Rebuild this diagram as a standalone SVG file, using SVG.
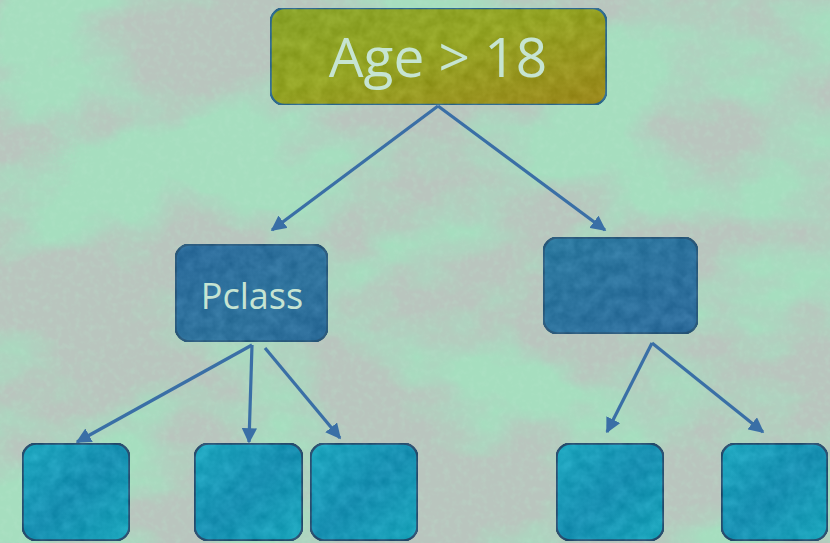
<svg xmlns="http://www.w3.org/2000/svg" width="830" height="543" viewBox="0 0 830 543">
  <defs>
    <style>
      .node { stroke-width: 2.5; }
      .lbl { font-family: "Open Sans", "Liberation Sans", sans-serif; fill: #c6e4d2; text-anchor: middle; }
      .edge { stroke: #3a6fa6; stroke-width: 3.2; fill: none; marker-end: url(#arrow); }
    </style>
    <marker id="arrow" viewBox="0 0 10 10" refX="9" refY="5" markerWidth="4.8" markerHeight="4.8" orient="auto" markerUnits="strokeWidth">
      <path d="M0,0 L10,5 L0,10 Z" fill="#3a6fa6"/>
    </marker>

    <!-- foliage-like backdrop: pale green blotches over grey -->
    <filter id="foliage" x="0" y="0" width="100%" height="100%" color-interpolation-filters="sRGB">
      <feTurbulence type="fractalNoise" baseFrequency="0.006 0.009" numOctaves="5" seed="11" result="n"/>
      <feColorMatrix in="n" type="matrix" values="0 0 0 0 0.65  0 0 0 0 0.87  0 0 0 0 0.75  4.2 0 0 0 -1.75"/>
    </filter>
    <filter id="grain" x="0" y="0" width="100%" height="100%" color-interpolation-filters="sRGB">
      <feTurbulence type="fractalNoise" baseFrequency="0.16" numOctaves="2" seed="3" result="n"/>
      <feColorMatrix in="n" type="matrix" values="0 0 0 0 0.72  0 0 0 0 0.90  0 0 0 0 0.80  2.2 0 0 0 -1.0"/>
    </filter>

    <!-- mottled texture for box fills -->
    <filter id="mottle" x="0" y="0" width="100%" height="100%" color-interpolation-filters="sRGB">
      <feTurbulence type="fractalNoise" baseFrequency="0.08" numOctaves="3" seed="5" result="n"/>
      <feColorMatrix in="n" type="matrix" values="1 0 0 0 0  1 0 0 0 0  1 0 0 0 0  0 0 0 0 1" result="g"/>
      <feComposite in="SourceGraphic" in2="g" operator="arithmetic" k1="0" k2="1" k3="0.13" k4="-0.065" result="m"/>
      <feComposite in="m" in2="SourceAlpha" operator="in"/>
    </filter>

    <linearGradient id="rootFill" x1="0" y1="0" x2="1" y2="1">
      <stop offset="0" stop-color="#8aa42a"/>
      <stop offset="0.45" stop-color="#94a424"/>
      <stop offset="1" stop-color="#9c881c"/>
    </linearGradient>
    <linearGradient id="midFill" x1="0" y1="0" x2="1" y2="1">
      <stop offset="0" stop-color="#2c6c9c"/>
      <stop offset="0.6" stop-color="#30749e"/>
      <stop offset="1" stop-color="#2a6a98"/>
    </linearGradient>
    <linearGradient id="midFill2" x1="0" y1="0" x2="1" y2="1">
      <stop offset="0" stop-color="#2c7aa0"/>
      <stop offset="1" stop-color="#2e6c9c"/>
    </linearGradient>
    <linearGradient id="leafFill" x1="0" y1="0" x2="1" y2="1">
      <stop offset="0" stop-color="#1ea8c0"/>
      <stop offset="0.5" stop-color="#1890b2"/>
      <stop offset="1" stop-color="#1aa6bc"/>
    </linearGradient>
  </defs>

  <!-- backdrop -->
  <rect width="830" height="543" fill="#b9c5be"/>
  <rect width="830" height="543" filter="url(#foliage)"/>
  <rect width="830" height="543" filter="url(#grain)" opacity="0.3"/>

  <!-- connectors -->
  <g id="connectors">
    <line class="edge" x1="438" y1="106" x2="272" y2="230"/>
    <line class="edge" x1="438" y1="106" x2="605" y2="230"/>
    <line class="edge" x1="252" y1="345" x2="77" y2="442"/>
    <line class="edge" x1="252" y1="345" x2="249" y2="442"/>
    <line class="edge" x1="265" y1="348" x2="340" y2="438"/>
    <line class="edge" x1="652" y1="343" x2="607" y2="432"/>
    <line class="edge" x1="652" y1="343" x2="763" y2="432"/>
  </g>

  <!-- nodes -->
  <g id="root">
    <rect class="node" x="270.5" y="8" width="336" height="97" rx="14" fill="url(#rootFill)" stroke="#2e6a8e" filter="url(#mottle)"/>
    <text class="lbl" x="438" y="77" font-size="55">Age &gt; 18</text>
  </g>

  <g id="pclass">
    <rect class="node" x="175.5" y="244.5" width="152" height="97" rx="14" fill="url(#midFill)" stroke="#2b5a7c" filter="url(#mottle)"/>
    <text class="lbl" x="252" y="309" font-size="36">Pclass</text>
  </g>

  <g id="right-mid">
    <rect class="node" x="543.5" y="237.5" width="154" height="96" rx="14" fill="url(#midFill2)" stroke="#2b5a7c" filter="url(#mottle)"/>
  </g>

  <g id="leaf-1">
    <rect class="node" x="22.5" y="443.5" width="107" height="97" rx="14" fill="url(#leafFill)" stroke="#2a4f70" filter="url(#mottle)"/>
  </g>
  <g id="leaf-2">
    <rect class="node" x="194.5" y="443.5" width="108" height="97" rx="14" fill="url(#leafFill)" stroke="#2a4f70" filter="url(#mottle)"/>
  </g>
  <g id="leaf-3">
    <rect class="node" x="310.5" y="443.5" width="107" height="97" rx="14" fill="url(#leafFill)" stroke="#2a4f70" filter="url(#mottle)"/>
  </g>
  <g id="leaf-4">
    <rect class="node" x="556.5" y="443.5" width="107" height="97" rx="14" fill="url(#leafFill)" stroke="#2a4f70" filter="url(#mottle)"/>
  </g>
  <g id="leaf-5">
    <rect class="node" x="721.5" y="443.5" width="106" height="97" rx="14" fill="url(#leafFill)" stroke="#2a4f70" filter="url(#mottle)"/>
  </g>
</svg>
